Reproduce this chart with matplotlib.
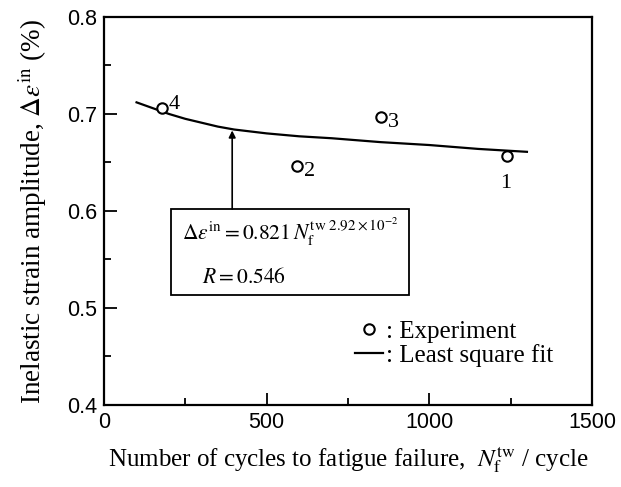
"""Inelastic strain amplitude vs. cycles to fatigue failure."""

import matplotlib.pyplot as plt
from matplotlib.patches import Rectangle

plt.rcParams['mathtext.fontset'] = 'stix'

# experiment points, numbered
exp_cycles = [1240, 594, 852, 178]
exp_strain = [0.657, 0.646, 0.697, 0.706]
exp_labels = ['1', '2', '3', '4']

# least square fit curve
fit_cycles = [100, 150, 200, 250, 300, 350, 400, 500, 600, 700, 850, 1000, 1150, 1300]
fit_strain = [0.712, 0.706, 0.700, 0.695, 0.691, 0.687, 0.684, 0.680, 0.677,
              0.675, 0.671, 0.668, 0.664, 0.661]

x_ticks = [0, 500, 1000, 1500]
y_ticks = [0.4, 0.5, 0.6, 0.7, 0.8]

SERIF = 'Liberation Serif'
SANS = 'Liberation Sans'

fig = plt.figure(figsize=(6.21, 4.87), dpi=100)
ax = fig.add_axes([0.1675, 0.1684, 0.7858, 0.7967])

ax.plot(fit_cycles, fit_strain, color='black', lw=1.6, label=': Least square fit')
ax.plot(exp_cycles, exp_strain, 'o', mfc='white', mec='black', mew=1.5, ms=7.5,
        ls='none', label=': Experiment')

offsets = {'1': (-5, -20), '2': (5, -4), '3': (5, -4), '4': (5, 3)}
for x, y, lab in zip(exp_cycles, exp_strain, exp_labels):
    ax.annotate(lab, (x, y), xytext=offsets[lab], textcoords='offset points',
                fontsize=16, family=SERIF, ha='left', va='center')

# equation box and arrow to the curve
ax.add_patch(Rectangle((206, 0.513), 732, 0.089, fill=False, lw=1.3,
                       edgecolor='black'))
ax.annotate('', xy=(394, 0.683), xytext=(394, 0.602),
            arrowprops=dict(arrowstyle='-|>', color='black', lw=1.2,
                            mutation_scale=10, shrinkA=0, shrinkB=0))
ax.text(240, 0.578,
        r'$\Delta\varepsilon^{\mathrm{in}} = 0.821\,N_{\mathrm{f}}^{\mathrm{tw}\ 2.92\times10^{-2}}$',
        fontsize=15.5, va='center', ha='left')
ax.text(300, 0.532, r'$R = 0.546$', fontsize=15.5, va='center', ha='left')

ax.set_xlim(0, 1500)
ax.set_ylim(0.4, 0.8)
ax.set_xticks(x_ticks)
ax.set_yticks(y_ticks)
ax.set_xticks([250, 750, 1250], minor=True)
ax.set_yticks([0.45, 0.55, 0.65, 0.75], minor=True)
ax.set_xticklabels([str(t) for t in x_ticks], family=SANS, fontsize=15.5)
ax.set_yticklabels([f'{t:.1f}' for t in y_ticks], family=SANS, fontsize=15.5)
ax.tick_params(which='major', direction='in', length=9, width=1.3, pad=5)
ax.tick_params(which='minor', direction='in', length=5, width=1.3)
for s in ax.spines.values():
    s.set_linewidth(1.6)

ax.set_xlabel(r'Number of cycles to fatigue failure,  $N_{\mathrm{f}}^{\mathrm{tw}}$ / cycle',
              family=SERIF, fontsize=18, labelpad=8)
ax.set_ylabel(r'Inelastic strain amplitude, $\Delta\varepsilon^{\mathrm{in}}$ (%)',
              family=SERIF, fontsize=19.5, labelpad=13)

handles, labels = ax.get_legend_handles_labels()
ax.legend(handles[::-1], labels[::-1], loc='center left',
          bbox_to_anchor=(0.494, 0.158), frameon=False, handlelength=1.1,
          handletextpad=0.15, labelspacing=0.05, borderpad=0.4, borderaxespad=0,
          prop={'family': SERIF, 'size': 18})

fig.savefig('out.png', dpi=100)
